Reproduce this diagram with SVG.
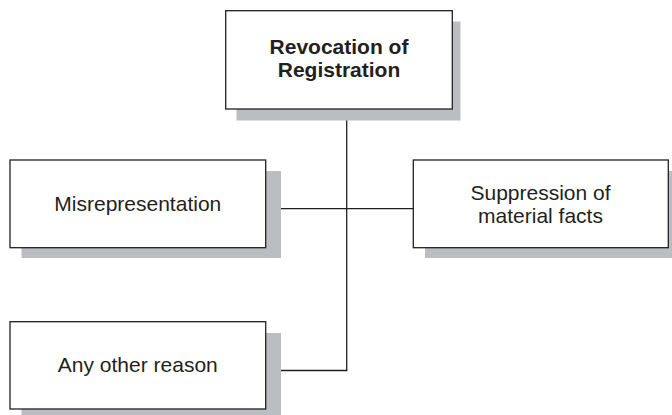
<svg xmlns="http://www.w3.org/2000/svg" width="672" height="415" viewBox="0 0 672 415">
<style>
.shadow{fill:#bcbdc0;stroke:none}
.box{fill:#ffffff;stroke:#231f20;stroke-width:1.3}
.t{font-family:"Liberation Sans",Arial,sans-serif;font-size:21px;fill:#231f20;text-anchor:middle}
.b{font-weight:bold}
.c{fill:none;stroke:#231f20;stroke-width:1.3}
</style>
<rect width="672" height="415" fill="#ffffff"/>
<g id="connectors">
<line class="c" x1="346.7" y1="109" x2="346.7" y2="370.5"/>
<line class="c" x1="281" y1="208.7" x2="413.3" y2="208.7"/>
<line class="c" x1="281" y1="370.5" x2="347.3" y2="370.5"/>
</g>
<g id="revocation">
<rect class="shadow" x="236.5" y="21.5" width="224" height="99"/>
<rect class="box" x="225.7" y="10.7" width="226.6" height="98.3"/>
<text class="t b" x="339" y="53.5">Revocation of</text>
<text class="t b" x="339" y="76.5">Registration</text>
</g>
<g id="misrepresentation">
<rect class="shadow" x="21.5" y="171" width="259.5" height="87"/>
<rect class="box" x="10" y="160" width="255.7" height="87.7"/>
<text class="t" x="137.8" y="211">Misrepresentation</text>
</g>
<g id="suppression">
<rect class="shadow" x="425" y="171" width="247" height="87"/>
<rect class="box" x="413.3" y="160" width="255" height="87.7"/>
<text class="t" x="540.5" y="200">Suppression of</text>
<text class="t" x="540.5" y="222.7">material facts</text>
</g>
<g id="other">
<rect class="shadow" x="21.5" y="333" width="259.5" height="90"/>
<rect class="box" x="10" y="321.7" width="255.7" height="87.3"/>
<text class="t" x="137.8" y="372">Any other reason</text>
</g>
</svg>
